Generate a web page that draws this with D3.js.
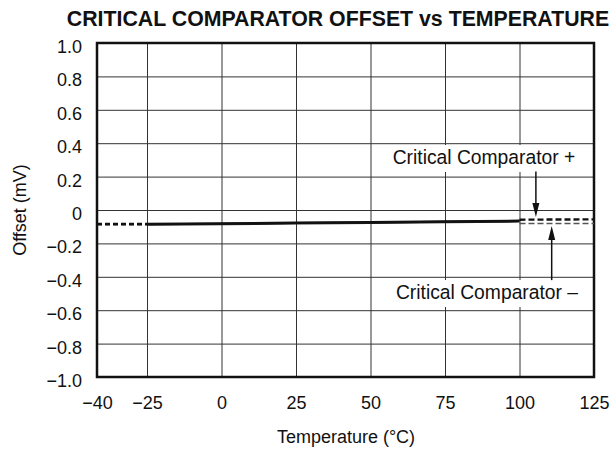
<!DOCTYPE html>
<html>
<head>
<meta charset="utf-8">
<script src="https://cdn.jsdelivr.net/npm/d3@7"></script>
<style>
  body { margin: 0; background: #fff; }
  svg { display: block; }
  text { font-family: "Liberation Sans", Arial, sans-serif; fill: #111; }
</style>
</head>
<body>
<div id="chart"></div>
<script>
// tick values
let tempTicks = [-40, -25, 0, 25, 50, 75, 100, 125];
let offsetTicks = [1.0, 0.8, 0.6, 0.4, 0.2, 0, -0.2, -0.4, -0.6, -0.8, -1.0];

// measured part (solid), both comparators sit on top of each other
let solidTemps = [-25, 0, 25, 50, 75, 100];
let solidPlus = [-0.084, -0.081, -0.077, -0.073, -0.069, -0.065];
let solidMinus = [-0.087, -0.084, -0.080, -0.076, -0.072, -0.068];

// extrapolated part (dashed)
let leftTemps = [-40, -25];
let leftPlus = [-0.084, -0.084];
let leftMinus = [-0.087, -0.087];
let rightTemps = [100, 125];
let rightPlus = [-0.058, -0.056];
let rightMinus = [-0.081, -0.081];

// annotation arrows: [temp, from offset, to offset]
let arrowPlus = [105.5, 0.23, -0.042];
let arrowMinus = [110.8, -0.42, -0.096];

let width = 613, height = 452;
let plotL = 97, plotR = 594, plotT = 43, plotB = 377;

let svg = d3.select("#chart").append("svg")
    .attr("width", width)
    .attr("height", height);

// the -40..-25 step is drawn wider than the rest, like the original sheet
let x = d3.scaleLinear().domain([-40, -25, 125]).range([plotL, 147, plotR]);
let y = d3.scaleLinear().domain([-1, 1]).range([plotB, plotT]);

// grid
let xAxis = svg.append("g")
    .attr("transform", `translate(0, ${plotB})`)
    .call(d3.axisBottom(x).tickValues(tempTicks).tickSize(-(plotB - plotT)).tickPadding(19)
        .tickFormat(d => d === 0 ? "0" : (d < 0 ? "\u2212" : "") + Math.abs(d)));
let yAxis = svg.append("g")
    .attr("transform", `translate(${plotL}, 0)`)
    .call(d3.axisLeft(y).tickValues(offsetTicks).tickSize(-(plotR - plotL)).tickPadding(15)
        .tickFormat(d => d === 0 ? "0" : (d < 0 ? "\u2212" : "") + Math.abs(d).toFixed(1)));

[xAxis, yAxis].forEach(a => {
    a.select(".domain").remove();
    a.selectAll("line").attr("stroke", "#333").attr("stroke-width", 1);
    a.selectAll("text")
        .style("font-family", "'Liberation Sans', Arial, sans-serif")
        .style("font-size", "18px")
        .attr("fill", "#111");
});
yAxis.selectAll("text").attr("dy", "0.53em");

// white boxes behind the annotation labels
let labels = [
    { text: "Critical Comparator +", x: 484, y: 164 },
    { text: "Critical Comparator \u2013", x: 487, y: 299 }
];
labels.forEach(l => {
    svg.append("rect")
        .attr("x", l.x - 100).attr("y", l.y - 19)
        .attr("width", 200).attr("height", 27)
        .attr("fill", "#fff");
});

// border
svg.append("rect")
    .attr("x", plotL).attr("y", plotT)
    .attr("width", plotR - plotL).attr("height", plotB - plotT)
    .attr("fill", "none")
    .attr("stroke", "#111")
    .attr("stroke-width", 2.5);

let line = d3.line().x(d => x(d[0])).y(d => y(d[1]));
function pairs(ts, vs) { return ts.map((t, i) => [t, vs[i]]); }

svg.append("path").datum(pairs(solidTemps, solidMinus))
    .attr("d", line).attr("fill", "none").attr("stroke", "#222").attr("stroke-width", 2.5);
svg.append("path").datum(pairs(solidTemps, solidPlus))
    .attr("d", line).attr("fill", "none").attr("stroke", "#111").attr("stroke-width", 2.5);

svg.append("path").datum(pairs(leftTemps, leftMinus))
    .attr("d", line).attr("fill", "none").attr("stroke", "#333")
    .attr("stroke-width", 1.8).attr("stroke-dasharray", "5,3");
svg.append("path").datum(pairs(leftTemps, leftPlus))
    .attr("d", line).attr("fill", "none").attr("stroke", "#111")
    .attr("stroke-width", 2.4).attr("stroke-dasharray", "5,3");

svg.append("path").datum(pairs(rightTemps, rightPlus))
    .attr("d", line).attr("fill", "none").attr("stroke", "#111")
    .attr("stroke-width", 2.4).attr("stroke-dasharray", "6,3");
svg.append("path").datum(pairs(rightTemps, rightMinus))
    .attr("d", line).attr("fill", "none").attr("stroke", "#555")
    .attr("stroke-width", 1.6).attr("stroke-dasharray", "6,3");

// arrows
function arrow(a) {
    let ax = x(a[0]), y0 = y(a[1]), y1 = y(a[2]);
    let dir = y1 > y0 ? 1 : -1;
    svg.append("line")
        .attr("x1", ax).attr("x2", ax)
        .attr("y1", y0).attr("y2", y1 - dir * 10)
        .attr("stroke", "#111").attr("stroke-width", 1.5);
    svg.append("path")
        .attr("d", `M${ax},${y1} L${ax - 3.5},${y1 - dir * 14} L${ax + 3.5},${y1 - dir * 14} Z`)
        .attr("fill", "#111");
}
arrow(arrowPlus);
arrow(arrowMinus);

labels.forEach(l => {
    svg.append("text")
        .attr("x", l.x).attr("y", l.y)
        .attr("text-anchor", "middle")
        .style("font-size", "19.3px")
        .text(l.text);
});

// titles
svg.append("text")
    .attr("x", 338).attr("y", 26)
    .attr("text-anchor", "middle")
    .style("font-size", "21.3px")
    .style("font-weight", "bold")
    .attr("fill", "#000")
    .text("CRITICAL COMPARATOR OFFSET vs TEMPERATURE");

svg.append("text")
    .attr("x", 346).attr("y", 443)
    .attr("text-anchor", "middle")
    .style("font-size", "18px")
    .text("Temperature (\u00b0C)");

svg.append("text")
    .attr("transform", `translate(26, 210) rotate(-90)`)
    .attr("text-anchor", "middle")
    .style("font-size", "18px")
    .text("Offset (mV)");
</script>
</body>
</html>
